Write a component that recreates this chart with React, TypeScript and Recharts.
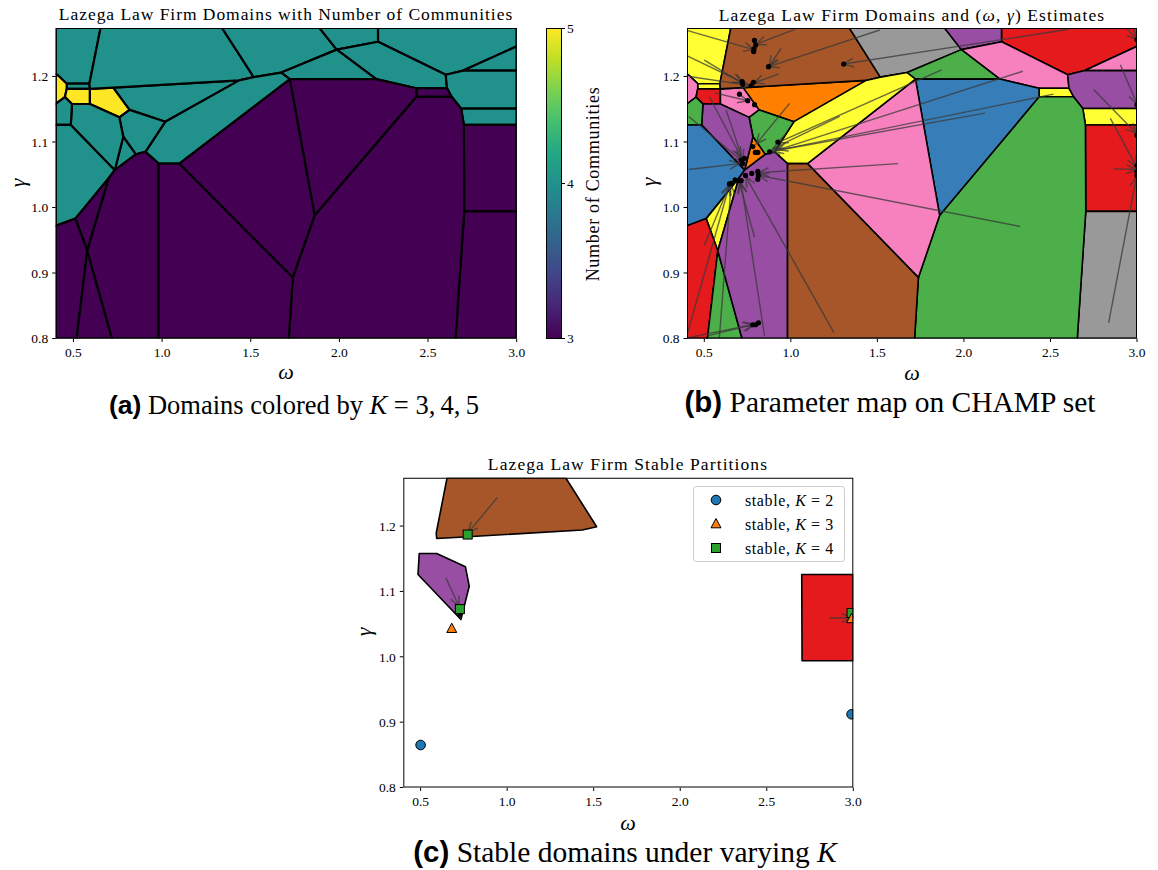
import React from "react";
import { ScatterChart, Scatter, XAxis, YAxis } from "recharts";

type Pt = [number, number];

const G_TOP = 1.274;

const omegaTicks = [0.5, 1.0, 1.5, 2.0, 2.5, 3.0];
const gammaTicks = [0.8, 0.9, 1.0, 1.1, 1.2];
const colorbarTicks = [3, 4, 5];

// domain tessellation shared by panels (a) and (b)
const cellVertices: Pt[][] = [
  [[0.4, G_TOP], [0.653, G_TOP], [0.59, 1.189], [0.462, 1.189], [0.415, 1.201], [0.4, 1.204]],
  [[0.462, 1.189], [0.59, 1.189], [0.593, 1.181], [0.462, 1.181]],
  [[0.4, 1.204], [0.415, 1.201], [0.462, 1.189], [0.462, 1.181], [0.452, 1.1685], [0.4, 1.158]],
  [[0.462, 1.181], [0.593, 1.181], [0.593, 1.158], [0.492, 1.158], [0.452, 1.1685]],
  [[0.593, 1.181], [0.725, 1.183], [0.817, 1.149], [0.759, 1.1376], [0.593, 1.158]],
  [[0.725, 1.183], [1.435, 1.194], [1.018, 1.131], [0.817, 1.149]],
  [[0.653, G_TOP], [1.338, G_TOP], [1.517, 1.199], [1.435, 1.194], [0.725, 1.183], [0.593, 1.181], [0.59, 1.189]],
  [[1.338, G_TOP], [1.888, G_TOP], [1.985, 1.241], [1.672, 1.206], [1.517, 1.199]],
  [[1.888, G_TOP], [2.218, G_TOP], [2.218, 1.253], [1.985, 1.241]],
  [[2.218, G_TOP], [3.0, G_TOP], [3.0, 1.246], [2.698, 1.209], [2.6, 1.2026], [2.218, 1.253]],
  [[1.985, 1.241], [2.218, 1.253], [2.6, 1.2026], [2.607, 1.182], [2.434, 1.182], [2.208, 1.196]],
  [[1.672, 1.206], [1.985, 1.241], [2.208, 1.196], [1.72, 1.196]],
  [[2.698, 1.209], [3.0, 1.246], [3.0, 1.209]],
  [[2.6, 1.2026], [2.698, 1.209], [3.0, 1.209], [3.0, 1.151], [2.687, 1.151], [2.633, 1.169], [2.607, 1.182]],
  [[2.687, 1.151], [3.0, 1.151], [3.0, 1.126], [2.702, 1.126]],
  [[2.702, 1.126], [3.0, 1.126], [3.0, 0.994], [2.704, 0.994]],
  [[2.704, 0.994], [3.0, 0.994], [3.0, 0.8], [2.655, 0.8]],
  [[2.434, 1.182], [2.607, 1.182], [2.633, 1.169], [2.434, 1.169]],
  [[2.434, 1.169], [2.633, 1.169], [2.687, 1.151], [2.702, 1.126], [2.704, 0.994], [2.655, 0.8], [1.715, 0.8], [1.737, 0.893], [1.86, 0.988]],
  [[1.72, 1.196], [2.208, 1.196], [2.434, 1.182], [2.434, 1.169], [1.86, 0.988]],
  [[1.72, 1.196], [1.86, 0.988], [1.737, 0.893], [1.096, 1.067]],
  [[1.435, 1.194], [1.517, 1.199], [1.672, 1.206], [1.72, 1.196], [1.096, 1.067], [0.981, 1.067], [0.906, 1.085], [1.018, 1.131]],
  [[0.759, 1.1376], [0.817, 1.149], [1.018, 1.131], [0.906, 1.085], [0.852, 1.081], [0.781, 1.108]],
  [[0.781, 1.108], [0.852, 1.081], [0.733, 1.057]],
  [[0.492, 1.158], [0.593, 1.158], [0.759, 1.1376], [0.781, 1.108], [0.733, 1.057], [0.485, 1.126]],
  [[0.4, 1.158], [0.452, 1.1685], [0.492, 1.158], [0.485, 1.126], [0.4, 1.126]],
  [[0.4, 1.126], [0.485, 1.126], [0.733, 1.057], [0.7, 1.045], [0.511, 0.983], [0.4, 0.972]],
  [[0.511, 0.983], [0.7, 1.045], [0.578, 0.934]],
  [[0.4, 0.972], [0.511, 0.983], [0.578, 0.934], [0.518, 0.8], [0.4, 0.8]],
  [[0.578, 0.934], [0.718, 0.8], [0.518, 0.8]],
  [[0.733, 1.057], [0.852, 1.081], [0.906, 1.085], [0.981, 1.067], [0.981, 0.8], [0.718, 0.8], [0.578, 0.934], [0.7, 1.045]],
  [[0.981, 1.067], [1.096, 1.067], [1.737, 0.893], [1.715, 0.8], [0.981, 0.8]],
];

// number of communities per domain (panel a)
const cellK = [4, 4, 5, 5, 5, 4, 4, 4, 4, 4, 4, 4, 4, 4, 4, 3, 3, 3, 3, 3, 3, 4, 4, 4, 4, 4, 4, 3, 3, 3, 3, 3];

// partition id per domain (panel b), index into set1
const cellPartition = [5, 5, 7, 0, 7, 4, 6, 8, 3, 0, 7, 2, 7, 3, 5, 0, 8, 5, 2, 1, 7, 5, 2, 4, 3, 2, 1, 5, 0, 2, 3, 6];

// domains that stay stable (panel c)
const stableCells = [6, 24, 15];

// (omega, gamma) estimate map: from -> to
const mapFrom: Pt[] = [
  [0.404, 1.27], [1.022, 1.272], [0.944, 1.243], [1.514, 1.271], [2.605, 1.272],
  [0.404, 1.231], [0.5, 1.225], [0.414, 1.2], [0.931, 1.204], [0.56, 1.175],
  [0.993, 1.159], [1.871, 1.21], [2.34, 1.208], [2.518, 1.173], [2.122, 1.144],
  [1.282, 1.139], [1.62, 1.067], [2.325, 0.971], [1.249, 0.809], [0.41, 1.058],
  [0.41, 1.139], [0.529, 1.169], [0.626, 1.149], [0.79, 0.955], [0.848, 0.804],
  [0.587, 0.801], [0.404, 0.809], [0.5, 0.942], [0.4, 0.801], [0.52, 0.804],
  [2.749, 1.18], [2.846, 1.136], [2.904, 1.218], [2.865, 1.059], [2.836, 0.824],
  [2.942, 1.273],
];
const mapTo: Pt[] = [
  [0.785, 1.241], [0.8, 1.249], [0.875, 1.216], [0.873, 1.215], [1.305, 1.219],
  [0.72, 1.191], [0.724, 1.189], [0.765, 1.186], [0.786, 1.19], [0.751, 1.163],
  [0.8, 1.097], [0.925, 1.099], [0.925, 1.088], [0.9, 1.086], [0.877, 1.085],
  [0.896, 1.09], [0.815, 1.053], [0.815, 1.049], [0.74, 1.047], [0.703, 1.067],
  [0.713, 1.072], [0.713, 1.077], [0.722, 1.073], [0.703, 1.037], [0.713, 1.037],
  [0.655, 1.035], [0.645, 1.034], [0.645, 1.034], [0.78, 0.821], [0.79, 0.822],
  [2.997, 1.113], [2.997, 1.062], [3.0, 1.158], [2.997, 1.058], [2.997, 1.047],
  [3.0, 1.256],
];

const estimates: Pt[] = [
  [0.79, 1.255], [0.797, 1.248], [0.787, 1.242], [0.785, 1.238],
  [0.871, 1.215], [1.305, 1.219],
  [0.719, 1.192], [0.722, 1.188], [0.771, 1.186], [0.784, 1.191],
  [0.703, 1.173], [0.751, 1.163], [0.79, 1.157],
  [0.78, 1.093], [0.795, 1.084], [0.809, 1.084],
  [0.877, 1.085], [0.925, 1.1],
  [0.713, 1.072], [0.732, 1.075], [0.722, 1.067],
  [0.645, 1.036], [0.655, 1.037], [0.678, 1.042], [0.697, 1.041], [0.713, 1.041], [0.738, 1.049],
  [0.774, 1.052], [0.809, 1.055], [0.812, 1.049], [0.809, 1.043],
  [0.78, 0.821], [0.796, 0.821], [0.813, 0.824],
  [3.0, 1.256], [3.0, 1.157], [3.0, 1.11], [3.0, 1.064], [3.0, 1.054], [3.0, 1.049],
];

// panel (c)
const stableFrom: Pt[] = [[0.943, 1.2435], [0.646, 1.121], [2.861, 1.059]];
const stableTo: Pt[] = [[0.775, 1.19], [0.722, 1.077], [2.99, 1.06]];
const stableEstimates: Pt[] = [[0.725, 1.064]];
const stableK2: Pt[] = [[0.5, 0.865], [2.99, 0.912]];
const stableK3: Pt[] = [[0.68, 1.043], [2.99, 1.058]];
const stableK4: Pt[] = [[0.772, 1.187], [0.727, 1.073], [2.99, 1.067]];

const frameCorners: Pt[] = [[0.4, 0.8], [3.0, 0.8], [3.0, G_TOP], [0.4, G_TOP]];

const viridisK: Record<number, string> = { 3: "#440154", 4: "#21918c", 5: "#fde725" };
const set1 = ["#e41a1c", "#377eb8", "#4daf4a", "#984ea3", "#ff7f00", "#ffff33", "#a65628", "#f781bf", "#999999"];

const SERIF = '"Liberation Serif", "Times New Roman", serif';
const SANS = '"Liberation Sans", Arial, sans-serif';

const toData = (pts: Pt[]) => pts.map(([x, y]) => ({ x, y }));
const noShape = () => <g />;

function polygonLine(fill: string, stroke: string, width: number) {
  return (p: any) => {
    const pts: { x: number; y: number }[] = p.points || [];
    if (!pts.length) return <g />;
    const d = pts.map((q, i) => `${i ? "L" : "M"}${q.x},${q.y}`).join(" ") + " Z";
    return <path d={d} fill={fill} stroke={stroke} strokeWidth={width} strokeLinejoin="round" />;
  };
}

function arrowLine(p: any) {
  const pts: { x: number; y: number }[] = p.points || [];
  if (pts.length < 2) return <g />;
  const [a, b] = pts;
  const dx = b.x - a.x;
  const dy = b.y - a.y;
  const len = Math.hypot(dx, dy) || 1;
  const ux = dx / len;
  const uy = dy / len;
  const hl = 10;
  const hw = 4.5;
  const l1 = `${b.x - ux * hl - uy * hw},${b.y - uy * hl + ux * hw}`;
  const l2 = `${b.x - ux * hl + uy * hw},${b.y - uy * hl - ux * hw}`;
  return (
    <g stroke="#3a3a3a" strokeOpacity={0.75} strokeWidth={1.4} fill="none">
      <path d={`M${a.x},${a.y} L${b.x},${b.y}`} />
      <path d={`M${l1} L${b.x},${b.y} L${l2}`} />
    </g>
  );
}

const dotShape = (r: number) => (p: any) => <circle cx={p.cx} cy={p.cy} r={r} fill="#000" />;
const circleShape = (p: any) => <circle cx={p.cx} cy={p.cy} r={4.8} fill="#1f77b4" stroke="#000" strokeWidth={1} />;
const triangleShape = (p: any) => (
  <polygon
    points={`${p.cx},${p.cy - 5.5} ${p.cx + 5},${p.cy + 3.8} ${p.cx - 5},${p.cy + 3.8}`}
    fill="#ff7f0e"
    stroke="#000"
    strokeWidth={1}
  />
);
const squareShape = (p: any) => (
  <rect x={p.cx - 4.5} y={p.cy - 4.5} width={9} height={9} fill="#2ca02c" stroke="#000" strokeWidth={1} />
);

const fmt = (v: number) => v.toFixed(1);
const tickStyle = { fill: "#000", fontSize: 13.5, fontFamily: "Liberation Serif" };

function axes(yWidth: number) {
  return [
    <XAxis
      key="x"
      type="number"
      dataKey="x"
      domain={[0.4, 3.0]}
      ticks={omegaTicks}
      interval={0}
      allowDataOverflow
      tickFormatter={fmt}
      height={30}
      axisLine={false}
      tickLine={{ stroke: "#000" }}
      tickSize={3.5}
      tickMargin={5}
      tick={tickStyle}
    />,
    <YAxis
      key="y"
      type="number"
      dataKey="y"
      domain={[0.8, G_TOP]}
      ticks={gammaTicks}
      interval={0}
      allowDataOverflow
      tickFormatter={fmt}
      width={yWidth}
      axisLine={false}
      tickLine={{ stroke: "#000" }}
      tickSize={3.5}
      tickMargin={4}
      tick={tickStyle}
    />,
  ];
}

function frame() {
  return (
    <Scatter
      key="frame"
      data={toData(frameCorners)}
      line={polygonLine("none", "#000", 2)}
      shape={noShape}
      isAnimationActive={false}
      legendType="none"
    />
  );
}

function arrows(from: Pt[], to: Pt[], prefix: string) {
  return from.map((f, i) => (
    <Scatter
      key={`${prefix}${i}`}
      data={toData([f, to[i]])}
      line={arrowLine}
      shape={noShape}
      isAnimationActive={false}
      legendType="none"
    />
  ));
}

const abs = (left: number, top: number): React.CSSProperties => ({ position: "absolute", left, top });

function Text({ x, y, size, children, rotate, italic, family, spacing }: any) {
  return (
    <div
      style={{
        position: "absolute",
        left: x,
        top: y,
        transform: `translate(-50%, -50%)${rotate ? ` rotate(${rotate}deg)` : ""}`,
        fontSize: size,
        fontFamily: family || SERIF,
        fontStyle: italic ? "italic" : "normal",
        letterSpacing: spacing || 0,
        whiteSpace: "nowrap",
        lineHeight: 1,
        color: "#000",
      }}
    >
      {children}
    </div>
  );
}

const viridisGradient =
  "linear-gradient(to top, #440154 0%, #482475 10%, #414487 20%, #355f8d 30%, #2a788e 40%, #21918c 50%, #22a884 60%, #44bf70 70%, #7ad151 80%, #bddf26 90%, #fde725 100%)";

export default function App() {
  const cbTop = 28;
  const cbHeight = 310.5;
  return (
    <div style={{ position: "absolute", left: 0, top: 0, width: 1158, height: 870, background: "#fff", overflow: "hidden" }}>
      {/* panel (a) */}
      <div style={abs(0, 0)}>
        <ScatterChart width={540} height={380} margin={{ top: 28, right: 23.3, bottom: 11.5, left: 0 }}>
          {axes(55.7)}
          {cellVertices.map((pts, i) => (
            <Scatter
              key={`a${i}`}
              data={toData(pts)}
              line={polygonLine(viridisK[cellK[i]], "#000", 2.2)}
              shape={noShape}
              isAnimationActive={false}
              legendType="none"
            />
          ))}
          {frame()}
        </ScatterChart>
      </div>
      <div
        style={{
          position: "absolute",
          left: 545.7,
          top: cbTop,
          width: 16,
          height: cbHeight,
          background: viridisGradient,
          boxSizing: "border-box",
          border: "0.8px solid #000",
        }}
      />
      {colorbarTicks.map((t) => {
        const y = cbTop + cbHeight * (1 - (t - 3) / 2);
        return (
          <React.Fragment key={t}>
            <div style={{ position: "absolute", left: 561.7, top: y - 0.5, width: 3.5, height: 1, background: "#000" }} />
            <div style={{ position: "absolute", left: 567, top: y - 7.5, fontSize: 13.5, fontFamily: SERIF, lineHeight: "15px" }}>{t}</div>
          </React.Fragment>
        );
      })}
      <Text x={593} y={184} size={18} rotate={-90} spacing={0.7}>
        Number of Communities
      </Text>
      <Text x={286} y={15} size={17.5} spacing={0.95}>
        Lazega Law Firm Domains with Number of Communities
      </Text>
      <Text x={286} y={372} size={22} italic>ω</Text>
      <Text x={18} y={183} size={22} italic rotate={-90}>γ</Text>
      <Text x={294} y={405} size={26.5}>
        <b style={{ fontFamily: SANS }}>(a)</b> Domains colored by <i>K</i> = 3,{"\u2009"}4,{"\u2009"}5
      </Text>

      {/* panel (b) */}
      <div style={abs(640, 0)}>
        <ScatterChart width={510} height={380} margin={{ top: 28, right: 13, bottom: 11.5, left: 0 }}>
          {axes(47)}
          {cellVertices.map((pts, i) => (
            <Scatter
              key={`b${i}`}
              data={toData(pts)}
              line={polygonLine(set1[cellPartition[i]], "#000", 1.6)}
              shape={noShape}
              isAnimationActive={false}
              legendType="none"
            />
          ))}
          {arrows(mapFrom, mapTo, "m")}
          <Scatter data={toData(estimates)} shape={dotShape(2.6)} isAnimationActive={false} legendType="none" />
          {frame()}
        </ScatterChart>
      </div>
      <Text x={912} y={16} size={17.5} spacing={1.1}>
        Lazega Law Firm Domains and (<i>ω</i>, <i>γ</i>) Estimates
      </Text>
      <Text x={912} y={373} size={22} italic>ω</Text>
      <Text x={649} y={182} size={22} italic rotate={-90}>γ</Text>
      <Text x={890} y={402} size={29.5}>
        <b style={{ fontFamily: SANS }}>(b)</b> Parameter map on CHAMP set
      </Text>

      {/* panel (c) */}
      <div style={abs(355, 450)}>
        <ScatterChart width={510} height={380} margin={{ top: 27.7, right: 11.7, bottom: 12.5, left: 0 }}>
          {axes(48.3)}
          {stableCells.map((c) => (
            <Scatter
              key={`c${c}`}
              data={toData(cellVertices[c])}
              line={polygonLine(set1[cellPartition[c]], "#000", 1.6)}
              shape={noShape}
              isAnimationActive={false}
              legendType="none"
            />
          ))}
          {arrows(stableFrom, stableTo, "s")}
          <Scatter data={toData(stableEstimates)} shape={dotShape(2)} isAnimationActive={false} legendType="none" />
          <Scatter data={toData(stableK2)} shape={circleShape} isAnimationActive={false} legendType="none" />
          <Scatter data={toData(stableK4)} shape={squareShape} isAnimationActive={false} legendType="none" />
          <Scatter data={toData(stableK3)} shape={triangleShape} isAnimationActive={false} legendType="none" />
          {frame()}
        </ScatterChart>
      </div>
      <div
        style={{
          position: "absolute",
          left: 693,
          top: 486,
          width: 152,
          height: 76,
          boxSizing: "border-box",
          border: "1px solid #d0d0d0",
          borderRadius: 3,
          background: "rgba(255,255,255,0.8)",
        }}
      />
      {[
        { label: "2", shape: "c" },
        { label: "3", shape: "t" },
        { label: "4", shape: "s" },
      ].map((e, i) => {
        const y = 500 + i * 24;
        return (
          <React.Fragment key={e.label}>
            <svg style={{ position: "absolute", left: 707, top: y - 8 }} width={18} height={16}>
              {e.shape === "c" && <circle cx={9} cy={8} r={4.8} fill="#1f77b4" stroke="#000" />}
              {e.shape === "t" && <polygon points="9,2.5 14,11.8 4,11.8" fill="#ff7f0e" stroke="#000" />}
              {e.shape === "s" && <rect x={4.5} y={3.5} width={9} height={9} fill="#2ca02c" stroke="#000" />}
            </svg>
            <div style={{ position: "absolute", left: 745, top: y - 8.5, fontSize: 16, fontFamily: SERIF, lineHeight: "17px", whiteSpace: "nowrap", letterSpacing: 0.6 }}>
              stable, <i>K</i> = {e.label}
            </div>
          </React.Fragment>
        );
      })}
      <Text x={628} y={465} size={17.5} spacing={1.1}>
        Lazega Law Firm Stable Partitions
      </Text>
      <Text x={628} y={823} size={22} italic>ω</Text>
      <Text x={364} y={632} size={22} italic rotate={-90}>γ</Text>
      <Text x={625} y={852} size={29.5}>
        <b style={{ fontFamily: SANS }}>(c)</b> Stable domains under varying <i>K</i>
      </Text>
    </div>
  );
}
